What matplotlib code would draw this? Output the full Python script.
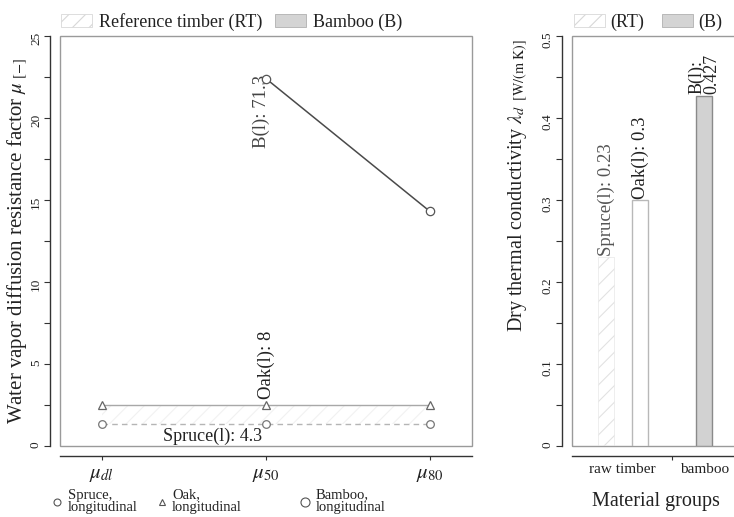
import numpy as np
import matplotlib
matplotlib.use("Agg")
import matplotlib.pyplot as plt
from matplotlib.patches import Patch, Rectangle
from matplotlib.lines import Line2D
from matplotlib.ticker import FixedLocator, FuncFormatter

plt.rcParams['font.family'] = ['Liberation Serif', 'DejaVu Serif']
plt.rcParams['mathtext.fontset'] = 'stix'
plt.rcParams['hatch.linewidth'] = 0.8

# vapour diffusion resistance (left panel)
mu_labels = [r"$\mu_{dl}$", r"$\mu_{50}$", r"$\mu_{80}$"]
spruce_mu = [1.35, 1.35, 1.35]
oak_mu = [2.5, 2.5, 2.5]
bamboo_mu = [np.nan, 22.4, 14.3]

# dry thermal conductivity (right panel)
bar_names = ["Spruce", "Oak", "Bamboo"]
lambda_dry = [0.23, 0.3, 0.427]
group_labels = ["raw timber", "bamboo"]

TXT = "#222222"
BOX = "#9a9a9a"

fig = plt.figure(figsize=(7.34, 5.17), dpi=100)
ax1 = fig.add_axes([60 / 734, 1 - 446 / 517, 412 / 734, 410 / 517])
ax2 = fig.add_axes([572 / 734, 1 - 446 / 517, 168 / 734, 410 / 517])


def r_style(ax, yticks, ylabels_every):
    # detached axis lines like R base graphics, plus a light box
    for s in ("top", "right"):
        ax.spines[s].set_visible(False)
    for s in ("left", "bottom"):
        ax.spines[s].set_color("#333333")
        ax.spines[s].set_linewidth(1.0)
    ax.spines["left"].set_position(("outward", 7))
    ax.spines["bottom"].set_position(("outward", 7))
    ax.add_patch(Rectangle((0, 0), 1, 1, transform=ax.transAxes, fill=False,
                           edgecolor=BOX, linewidth=1.0, clip_on=False, zorder=0.5))
    ax.yaxis.set_major_locator(FixedLocator(yticks))
    ax.yaxis.set_major_formatter(FuncFormatter(
        lambda v, p: ("%g" % round(v, 3)) if p % ylabels_every == 0 else ""))
    ax.tick_params(axis="y", labelrotation=90, length=4, width=0.8,
                   colors="#333333", labelsize=9.5, labelcolor=TXT, pad=2)
    ax.tick_params(axis="x", length=3, width=0.8, colors="#333333", labelcolor=TXT)


# ---- left panel ----
x = np.arange(len(mu_labels))
ax1.fill_between(x, spruce_mu, oak_mu, facecolor="none", edgecolor="#f1f1f1",
                 hatch="//", linewidth=0, zorder=1)
ax1.plot(x, spruce_mu, linestyle=(0, (4, 3)), color="#b5b5b5", lw=1.0,
         marker="o", ms=5.5, mfc="white", mec="#777777", mew=0.9, zorder=3)
ax1.plot(x, oak_mu, linestyle="-", color="#a8a8a8", lw=1.0,
         marker="^", ms=5.5, mfc="white", mec="#666666", mew=0.9, zorder=3)
ax1.plot(x, bamboo_mu, linestyle="-", color="#4a4a4a", lw=1.1,
         marker="o", ms=6, mfc="white", mec="#555555", mew=0.9, zorder=4)

ax1.annotate("B(l): 71.3", (1, bamboo_mu[1]), xytext=(-3, 3), textcoords="offset points",
             rotation=90, ha="center", va="top", fontsize=13.5, color="#444444")
ax1.annotate("Oak(l): 8", (1, oak_mu[1]), xytext=(0, 4), textcoords="offset points",
             rotation=90, ha="center", va="bottom", fontsize=13.5, color=TXT)
ax1.annotate("Spruce(l): 4.3", (1, spruce_mu[1]), xytext=(-3, -3), textcoords="offset points",
             ha="right", va="top", fontsize=13, color=TXT)

ax1.set_xlim(-0.256, 2.256)
ax1.set_ylim(0, 25)
r_style(ax1, np.arange(0, 25.1, 2.5), 2)
ax1.set_xticks(x)
ax1.set_xticklabels(mu_labels, fontsize=15)
ax1.set_ylabel(r"Water vapor diffusion resistance factor $\mu_{\ [-]}$",
               fontsize=15, color=TXT)
ax1.yaxis.set_label_coords(-0.072, 0.5)

ax1.legend(handles=[Patch(facecolor="white", edgecolor="#d8d8d8", hatch="//", lw=0.6),
                    Patch(facecolor="#d4d4d4", edgecolor="#b0b0b0", lw=0.6)],
           labels=["Reference timber (RT)", "Bamboo (B)"],
           loc="lower left", bbox_to_anchor=(-0.01, 1.0), ncol=2, frameon=False,
           borderaxespad=0.1, borderpad=0.2, fontsize=13, handlelength=1.7,
           handleheight=0.7, handletextpad=0.4, columnspacing=0.7, labelcolor=TXT)

# marker key under the left panel
key = [("o", 5, 57, 68, "Spruce,\nlongitudinal"),
       ("^", 5, 162, 172, "Oak,\nlongitudinal"),
       ("o", 6.5, 305, 316, "Bamboo,\nlongitudinal")]
for m, ms, mx, tx, lab in key:
    fig.add_artist(Line2D([mx / 734], [1 - 502 / 517], marker=m, ms=ms, mfc="white",
                          mec="#555555", mew=0.8, linestyle="none",
                          transform=fig.transFigure))
    fig.text(tx / 734, 1 - 501 / 517, lab, fontsize=10.5, va="center", ha="left",
             color=TXT, linespacing=0.9)

# ---- right panel ----
bar_x = [0, 1, 2.9]
ax2.bar(bar_x[0], lambda_dry[0], width=0.47, facecolor="none", edgecolor="#e2e2e2",
        hatch="//", linewidth=0.4, zorder=2)
ax2.bar(bar_x[1], lambda_dry[1], width=0.47, facecolor="white", edgecolor="#b8b8b8",
        linewidth=1.0, zorder=2)
ax2.bar(bar_x[2], lambda_dry[2], width=0.47, facecolor="#d2d2d2", edgecolor="#8a8a8a",
        linewidth=1.0, zorder=2)

ax2.annotate("Spruce(l): %g" % lambda_dry[0], (bar_x[0], lambda_dry[0]), xytext=(0, 1),
             textcoords="offset points", rotation=90, ha="center", va="bottom",
             fontsize=13.5, color="#555555")
ax2.annotate("Oak(l): %g" % lambda_dry[1], (bar_x[1], lambda_dry[1]), xytext=(0, 1),
             textcoords="offset points", rotation=90, ha="center", va="bottom",
             fontsize=13.5, color=TXT)
ax2.annotate("B(l):\n%g" % lambda_dry[2], (bar_x[2], lambda_dry[2]), xytext=(0, 1),
             textcoords="offset points", rotation=90, ha="center", va="bottom",
             fontsize=13, color=TXT, multialignment="left", linespacing=0.9)

ax2.set_xlim(-1.0, 3.95)
ax2.set_ylim(0, 0.5)
r_style(ax2, np.arange(0, 0.501, 0.05), 2)
ax2.set_xticks([1.94])
ax2.set_xticklabels([""])
ax2.set_xticks([0.47, 2.9], minor=True)
ax2.set_xticklabels(group_labels, minor=True, fontsize=11, color=TXT)
ax2.tick_params(axis="x", which="minor", length=0, pad=5)
ax2.set_xlabel("Material groups", fontsize=14.5, color=TXT, labelpad=12)
ax2.set_ylabel(r"Dry thermal conductivity $\lambda_{d\ \ \mathrm{[W/(m\ K)]}}$",
               fontsize=14.5, color=TXT)
ax2.yaxis.set_label_coords(-0.25, 0.635)

ax2.legend(handles=[Patch(facecolor="white", edgecolor="#d8d8d8", hatch="//", lw=0.6),
                    Patch(facecolor="#d4d4d4", edgecolor="#b0b0b0", lw=0.6)],
           labels=["(RT)", "(B)"],
           loc="lower left", bbox_to_anchor=(-0.02, 1.0), ncol=2, frameon=False,
           borderaxespad=0.1, borderpad=0.2, fontsize=13, handlelength=1.7,
           handleheight=0.7, handletextpad=0.3, columnspacing=1.0, labelcolor=TXT)

fig.savefig("out.png", dpi=100)
